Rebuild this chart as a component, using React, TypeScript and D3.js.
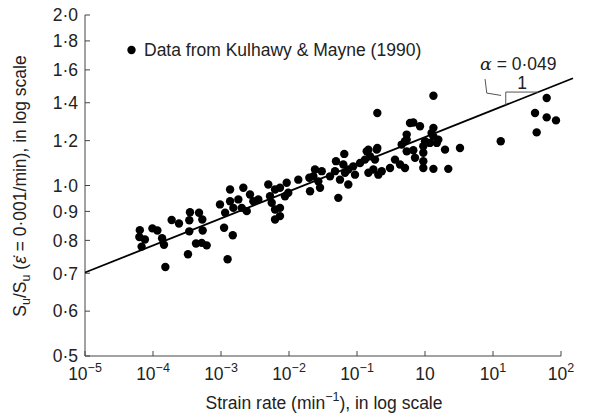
import React from "react";
import * as d3 from "d3";

// Strain rate (1/min) of each data point
const rates: number[] = [
  6.4e-5, 6.3e-5, 6.8e-5, 7.6e-5, 9.8e-5, 1.16e-4, 1.36e-4, 1.45e-4, 1.52e-4, 1.88e-4,
  2.41e-4, 3.5e-4, 3.42e-4, 3.42e-4, 3.27e-4, 4.75e-4, 5.31e-4, 5.38e-4, 4.29e-4, 5.2e-4,
  6.16e-4, 9.66e-4, 1.36e-3, 2.13e-3, 1.15e-3, 1.36e-3, 1.52e-3, 1.8e-3, 2.02e-3, 2.39e-3,
  2.67e-3, 2.99e-3, 3.54e-3, 1.11e-3, 1.49e-3, 1.25e-3, 4.96e-3, 5.26e-3, 5.57e-3, 6.23e-3,
  7.37e-3, 6.23e-3, 7.37e-3, 6.23e-3, 7.37e-3, 9.25e-3, 9.76e-3, 1.37e-2, 2.04e-2, 2.41e-2,
  2.28e-2, 2.86e-2, 3.03e-2, 2.7e-2, 4.01e-2, 4.91e-2, 4.75e-2, 5.62e-2, 5.31e-2, 6.5e-2,
  6.29e-2, 7.45e-2, 7.45e-2, 8.82e-2, 9.35e-2, 0.111, 0.131, 0.139, 0.155, 0.147,
  0.174, 0.199, 0.184, 0.206, 0.231, 0.199, 0.306, 0.362, 0.429, 0.508,
  0.454, 0.508, 0.538, 0.602, 1.33, 0.673, 0.844, 1.33, 1.25, 1.0,
  1.57, 1.49, 1.18, 0.944, 1.97, 3.27, 0.538, 0.673, 0.713, 0.944,
  0.944, 0.944, 1.33, 2.2, 1.33, 0.538, 1.99e-2, 8.73e-3, 6.66e-2, 0.147,
  0.195, 13.0, 61.6, 41.5, 61.6, 84.4, 43.9,
];

// Su / Su(0.001/min) of each data point
const ratios: number[] = [
  0.834, 0.811, 0.78, 0.803, 0.84, 0.833, 0.807, 0.786, 0.718, 0.869,
  0.857, 0.897, 0.868, 0.83, 0.756, 0.895, 0.871, 0.833, 0.79, 0.792,
  0.784, 0.926, 0.984, 0.991, 0.895, 0.938, 0.913, 0.945, 0.913, 0.901,
  0.964, 0.938, 0.945, 0.842, 0.817, 0.741, 1.004, 0.957, 0.932, 0.907,
  0.913, 0.871, 0.883, 0.984, 0.991, 1.011, 0.971, 1.024, 0.977, 1.067,
  1.038, 0.991, 1.06, 1.017, 1.038, 1.104, 1.06, 1.024, 0.951, 1.137,
  1.089, 1.067, 1.004, 1.081, 1.045, 1.096, 1.111, 1.149, 1.126, 1.053,
  1.067, 1.165, 1.111, 1.045, 1.06, 1.343, 1.074, 1.111, 1.089, 1.074,
  1.181, 1.197, 1.23, 1.289, 1.44, 1.292, 1.272, 1.264, 1.238, 1.197,
  1.205, 1.189, 1.189, 1.173, 1.157, 1.165, 1.149, 1.154, 1.119, 1.142,
  1.104, 1.074, 1.07, 1.07, 1.221, 1.205, 1.032, 0.957, 1.053, 1.157,
  1.157, 1.197, 1.427, 1.343, 1.319, 1.303, 1.241,
];

// Fitted line: ratio = fitRatioAtStart * (rate / fitRateRange[0]) ^ fitSlope
const fitRateRange: number[] = [1e-5, 150];
const fitRatioAtStart = 0.702;
const fitSlope = 0.0478;
const slopeTriangleRates: number[] = [15.4, 46.4];
const slopeLabel = "0·049";

const xTickValues: number[] = [1e-5, 1e-4, 1e-3, 1e-2, 1e-1, 1, 10, 100];
const xTickBases: string[] = ["10", "10", "10", "10", "10", "10", "10", "10"];
const xTickExps: string[] = ["−5", "−4", "−3", "−2", "−1", "", "1", "2"];
const yTickValues: number[] = [0.5, 0.6, 0.7, 0.8, 0.9, 1.0, 1.2, 1.4, 1.6, 1.8, 2.0];

const legendLabel = "Data from Kulhawy & Mayne (1990)";

const W = 595;
const H = 417;
const FONT = "'Liberation Sans', Arial, Helvetica, sans-serif";
const TEXT = "#222";
const AXIS = "#444";
const FS = 17.5;
const SUP = 12.5;

export default function App() {
  const x = d3.scaleLog().domain([1e-5, 1e2]).range([85, 561]);
  const y = d3.scaleLog().domain([0.5, 2]).range([356, 15]);
  const fit = (r: number) => fitRatioAtStart * Math.pow(r / fitRateRange[0], fitSlope);
  const lineGen = d3
    .line<number>()
    .x((r) => x(r))
    .y((r) => y(fit(r)));
  const fmtY = (v: number) => v.toFixed(1).replace(".", "·");

  const [tl, tr] = slopeTriangleRates;
  const triTopY = y(fit(tr));
  const triLeftX = x(tl);
  const triRightX = x(tr);
  const triBottomY = y(fit(tl));

  return (
    <svg width={W} height={H} style={{ display: "block", position: "absolute", left: 0, top: 0 }} fontFamily={FONT}>
      <rect width={W} height={H} fill="#fff" />
      {/* axes */}
      <line x1={x(1e-5)} x2={x(1e2)} y1={y(0.5)} y2={y(0.5)} stroke={AXIS} strokeWidth={1} />
      <line x1={x(1e-5)} x2={x(1e-5)} y1={y(0.5)} y2={y(2)} stroke={AXIS} strokeWidth={1} />
      {xTickValues.map((v, i) => (
        <g key={"xt" + i}>
          <line x1={x(v)} x2={x(v)} y1={y(0.5)} y2={y(0.5) - 5} stroke={AXIS} />
          <text x={x(v)} y={y(0.5) + 24} textAnchor="middle" fontSize={FS} fill={TEXT}>
            {xTickBases[i]}
            {xTickExps[i] ? (
              <tspan fontSize={SUP} dy={-8}>
                {xTickExps[i]}
              </tspan>
            ) : null}
          </text>
        </g>
      ))}
      {yTickValues.map((v, i) => (
        <g key={"yt" + i}>
          <line x1={x(1e-5)} x2={x(1e-5) + 5} y1={y(v)} y2={y(v)} stroke={AXIS} />
          <text x={78} y={y(v)} dy="0.36em" textAnchor="end" fontSize={FS} fill={TEXT}>
            {fmtY(v)}
          </text>
        </g>
      ))}
      {/* axis titles */}
      <text x={324} y={409} textAnchor="middle" fontSize={FS} fill={TEXT}>
        Strain rate (min
        <tspan fontSize={SUP} dy={-8}>
          −1
        </tspan>
        <tspan dy={8}>), in log scale</tspan>
      </text>
      <text transform="translate(26,186) rotate(-90)" textAnchor="middle" fontSize={FS} fill={TEXT}>
        S
        <tspan fontSize={SUP} dy={4}>u</tspan>
        <tspan dy={-4}>/S</tspan>
        <tspan fontSize={SUP} dy={4}>u</tspan>
        <tspan dy={-4}> (</tspan>
        <tspan fontStyle="italic">ε̇</tspan>
        <tspan> = 0·001/min), in log scale</tspan>
      </text>
      {/* fitted line */}
      <path d={lineGen(fitRateRange) || ""} fill="none" stroke="#000" strokeWidth={1.8} />
      {/* slope triangle */}
      <path
        d={`M${triLeftX},${triBottomY}V${triTopY}H${triRightX}`}
        fill="none"
        stroke="#555"
        strokeWidth={1}
      />
      <text x={(triLeftX + triRightX) / 2} y={triTopY - 3.5} textAnchor="middle" fontSize={FS} fill={TEXT}>
        1
      </text>
      <path
        d={`M${triLeftX - 20.7},${triTopY - 13}L${triLeftX - 19},${triTopY + 1}L${triLeftX - 4.7},${triTopY + 3.4}`}
        fill="none"
        stroke="#555"
        strokeWidth={1}
      />
      <text x={triLeftX + 12.5} y={triTopY - 22} textAnchor="middle" fontSize={FS} fill={TEXT}>
        <tspan fontStyle="italic" fontFamily="'DejaVu Serif', serif">α</tspan>
        <tspan> = {slopeLabel}</tspan>
      </text>
      {/* data */}
      {rates.map((r, i) => (
        <circle key={"p" + i} cx={x(r)} cy={y(ratios[i])} r={4.2} fill="#000" />
      ))}
      {/* legend */}
      <circle cx={131.5} cy={50} r={4.2} fill="#000" />
      <text x={144} y={50} dy="0.36em" fontSize={FS} fill={TEXT}>
        {legendLabel}
      </text>
    </svg>
  );
}
